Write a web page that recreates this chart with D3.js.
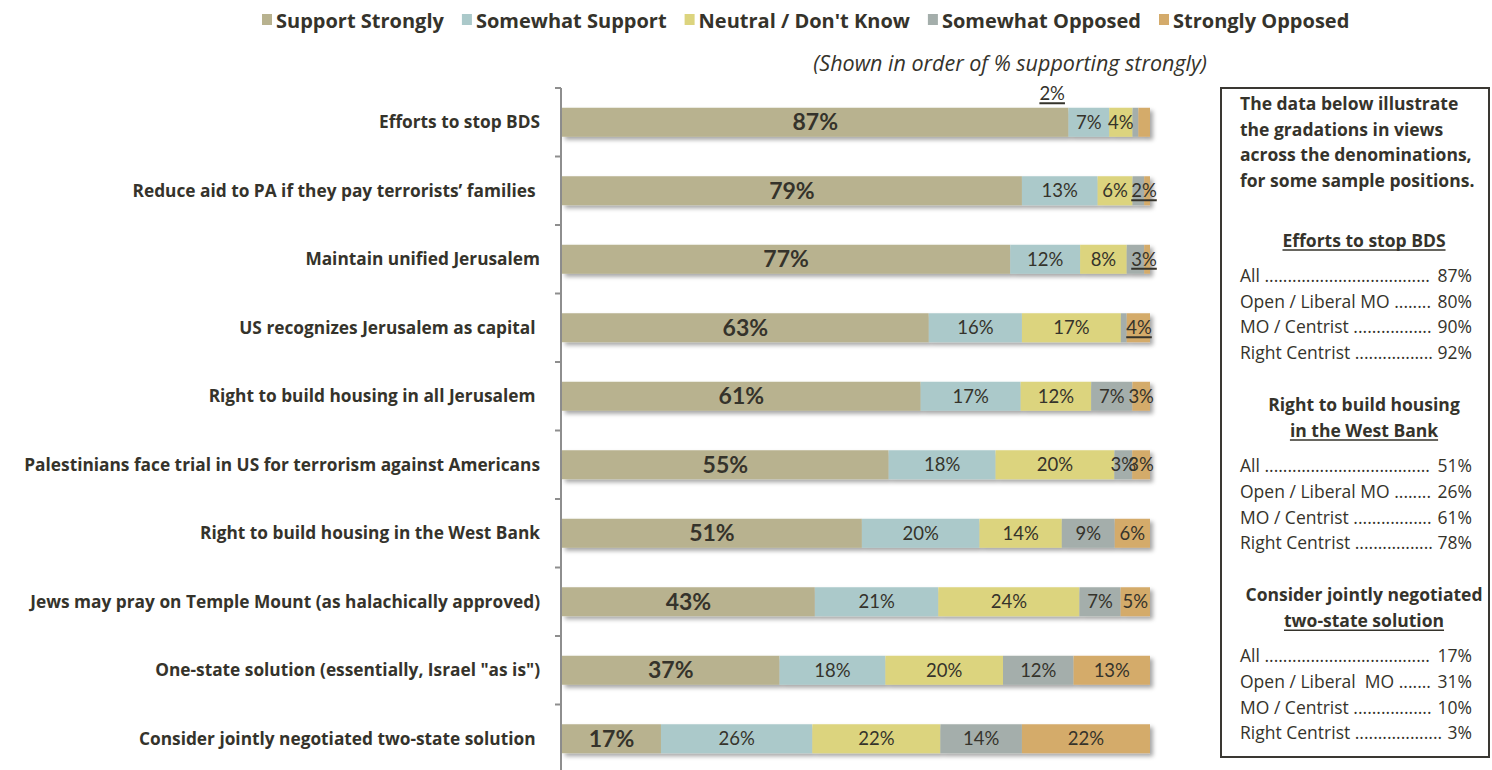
<!DOCTYPE html>
<html><head><meta charset="utf-8">
<script src="https://cdn.jsdelivr.net/npm/d3@7"></script>
<style>
html,body{margin:0;padding:0;background:#fff;}
svg{display:block;}
text{font-family:"Open Sans",Lato,sans-serif;}
.num{font-family:Lato,"Open Sans",sans-serif;}
</style></head>
<body><svg id="chart" width="1492" height="770"></svg>
<script>
// ---------------- DATA ----------------
const categories = [
  "Efforts to stop BDS",
  "Reduce aid to PA if they pay terrorists\u2019 families ",
  "Maintain unified Jerusalem",
  "US recognizes Jerusalem as capital ",
  "Right to build housing in all Jerusalem ",
  "Palestinians face trial in US for terrorism against Americans",
  "Right to build housing in the West Bank",
  "Jews may pray on Temple Mount (as halachically approved)",
  "One-state solution (essentially, Israel \"as is\")",
  "Consider jointly negotiated two-state solution "
];
const seriesNames = ["Support Strongly","Somewhat Support","Neutral / Don't Know","Somewhat Opposed","Strongly Opposed"];
const supportStrongly  = [87,79,77,63,61,55,51,43,37,17];
const somewhatSupport  = [ 7,13,12,16,17,18,20,21,18,26];
const neutral          = [ 4, 6, 8,17,12,20,14,24,20,22];
const somewhatOpposed  = [ 1, 2, 3, 1, 7, 3, 9, 7,12,14];
const stronglyOpposed  = [ 2, 1, 1, 4, 3, 3, 6, 5,13,22];
const seriesColors = ["#b8b28f","#abc9ca","#dcd47e","#a4aeab","#d4ab6b"];
// label handling for the thin segments: [row, series, mode]
const labelModes = [
  [0,3,"hide"],[0,4,"above"],
  [1,3,"callout"],[1,4,"hide"],
  [2,3,"callout"],[2,4,"hide"],
  [3,3,"hide"],[3,4,"callout"]
];
const subtitle = "(Shown in order of % supporting strongly)";
const boxIntro = ["The data below illustrate","the gradations in views","across the denominations,","for some sample positions."];
const boxTitles = [["Efforts to stop BDS"],["Right to build housing","in the West Bank"],["Consider jointly negotiated","two-state solution"]];
const denominations = [["All","Open / Liberal MO","MO / Centrist","Right Centrist"],
                       ["All","Open / Liberal MO","MO / Centrist","Right Centrist"],
                       ["All","Open / Liberal  MO","MO / Centrist","Right Centrist"]];
const boxValues = [[87,80,90,92],[51,26,61,78],[17,31,10,3]];

// ---------------- CHART ----------------
const svg = d3.select("#chart");
const ink = "#35332b";

const defs = svg.append("defs");
const f = defs.append("filter").attr("id","shadow").attr("x","-5%").attr("y","-40%").attr("width","110%").attr("height","190%");
f.append("feDropShadow").attr("dx",3).attr("dy",3).attr("stdDeviation",2).attr("flood-color","#000").attr("flood-opacity",0.35);

const rows = categories.map((c,i)=>({cat:c,
  v:[supportStrongly[i],somewhatSupport[i],neutral[i],somewhatOpposed[i],stronglyOpposed[i]]}));
const keys = [0,1,2,3,4];
const stack = d3.stack().keys(keys).value((d,k)=>d.v[k]).offset(d3.stackOffsetExpand);
const stacked = stack(rows);

const x = d3.scaleLinear().domain([0,1]).range([562,1150]);
const y = d3.scaleBand().domain(categories).range([88,773]).paddingInner(0).paddingOuter(0);
const barH = 29;

// axis
const axisX = 561;
svg.append("line").attr("x1",axisX).attr("x2",axisX).attr("y1",y.range()[0]).attr("y2",770)
  .attr("stroke","#8e8e8e").attr("stroke-width",2);
const tickYs = categories.map(c=>y(c)).concat([y.range()[1]]);
svg.selectAll(".tick").data(tickYs).enter().append("line")
  .attr("x1",axisX-6).attr("x2",axisX).attr("y1",d=>d).attr("y2",d=>d)
  .attr("stroke","#8e8e8e").attr("stroke-width",2);

// category labels
svg.selectAll(".cat").data(categories).enter().append("text")
  .attr("x",540).attr("y",c=>y(c)+y.bandwidth()/2+6)
  .attr("text-anchor","end").attr("font-weight","bold").attr("font-size",17.3)
  .attr("fill",ink).style("white-space","pre").text(c=>c);

// bars
const rowG = svg.selectAll(".row").data(rows).enter().append("g")
  .attr("filter","url(#shadow)");
rowG.each(function(r,i){
  const g = d3.select(this);
  keys.forEach(k=>{
    const s = stacked[k][i];
    g.append("rect").attr("x",x(s[0])).attr("width",Math.max(0,x(s[1])-x(s[0])))
      .attr("y",y(r.cat)+(y.bandwidth()-barH)/2).attr("height",barH)
      .attr("fill",seriesColors[k]);
  });
});

// value labels
const modeOf = (i,k)=>{const m=labelModes.find(a=>a[0]===i&&a[1]===k);return m?m[2]:"normal";};
rows.forEach((r,i)=>{
  const cy = y(r.cat)+y.bandwidth()/2;
  keys.forEach(k=>{
    const s = stacked[k][i];
    const mode = modeOf(i,k);
    if(mode==="hide") return;
    const cx = (x(s[0])+x(s[1]))/2;
    const t = svg.append("text").attr("class","num").text(r.v[k]+"%").attr("fill",ink);
    if(k===0){
      t.attr("x",cx).attr("y",cy+8).attr("text-anchor","middle").attr("font-weight","bold").attr("font-size",23);
    } else if(mode==="normal"){
      t.attr("x",cx).attr("y",cy+6.5).attr("text-anchor","middle").attr("font-size",18.5);
    } else {
      let tx, ty;
      if(mode==="above"){ tx = cx-92; ty = cy-22; }
      else { tx = x(1) - (k===4 ? 11 : 6); ty = cy+6.5; }
      t.attr("x",tx).attr("y",ty).attr("text-anchor","middle").attr("font-size",18.5);
      const w = t.node().getComputedTextLength();
      svg.append("line").attr("x1",tx-w/2).attr("x2",tx+w/2).attr("y1",ty+3).attr("y2",ty+3)
        .attr("stroke",ink).attr("stroke-width",2);
    }
  });
});

// legend
let lx = 262;
seriesNames.forEach((n,k)=>{
  svg.append("rect").attr("x",lx).attr("y",14).attr("width",10).attr("height",11).attr("fill",seriesColors[k]);
  const t = svg.append("text").attr("x",lx+14).attr("y",28).attr("font-weight","bold").attr("font-size",20)
    .attr("fill",ink).text(n);
  lx += 14 + t.node().getComputedTextLength() + 18;
});
svg.append("text").attr("x",1207).attr("y",71).attr("text-anchor","end").attr("font-style","italic")
  .attr("font-size",21.5).attr("fill",ink).text(subtitle);

// side box
svg.append("rect").attr("x",1221).attr("y",88).attr("width",268).attr("height",669)
  .attr("fill","#fff").attr("stroke","#3a3833").attr("stroke-width",2);
const boxFs = 17.5;
boxIntro.forEach((l,i)=>{
  svg.append("text").attr("x",1240).attr("y",110+i*25.5).attr("font-weight","bold").attr("font-size",boxFs)
    .attr("fill",ink).text(l);
});
let by = 247;
const boxCx = 1364, valX = 1472;
boxTitles.forEach((lines,gi)=>{
  lines.forEach((l,li)=>{
    const t = svg.append("text").attr("x",boxCx).attr("y",by).attr("text-anchor","middle")
      .attr("font-weight","bold").attr("font-size",boxFs).attr("fill",ink).text(l);
    if(li===lines.length-1){
      const w = t.node().getComputedTextLength();
      svg.append("line").attr("x1",boxCx-w/2).attr("x2",boxCx+w/2).attr("y1",by+3).attr("y2",by+3)
        .attr("stroke",ink).attr("stroke-width",1.5);
    }
    if(li<lines.length-1) by += 26;
  });
  by += 35;
  denominations[gi].forEach((d,ri)=>{
    const yy = by + ri*25.7;
    const v = svg.append("text").attr("x",valX).attr("y",yy).attr("text-anchor","end")
      .attr("font-size",boxFs).attr("fill",ink).text(boxValues[gi][ri]+"%");
    const vw = v.node().getComputedTextLength();
    const lt = svg.append("text").attr("x",1240).attr("y",yy).attr("font-size",boxFs).attr("fill",ink)
      .style("white-space","pre").text(d+" ");
    const lw = lt.node().getComputedTextLength();
    const probe = svg.append("text").attr("font-size",boxFs).text("..........");
    const dw = probe.node().getComputedTextLength()/10; probe.remove();
    const n = Math.max(0,Math.floor((valX - vw - 3 - (1240+lw))/dw));
    lt.text(d+" "+".".repeat(n));
  });
  by += 3*25.7 + 52;
});
</script></body></html>
